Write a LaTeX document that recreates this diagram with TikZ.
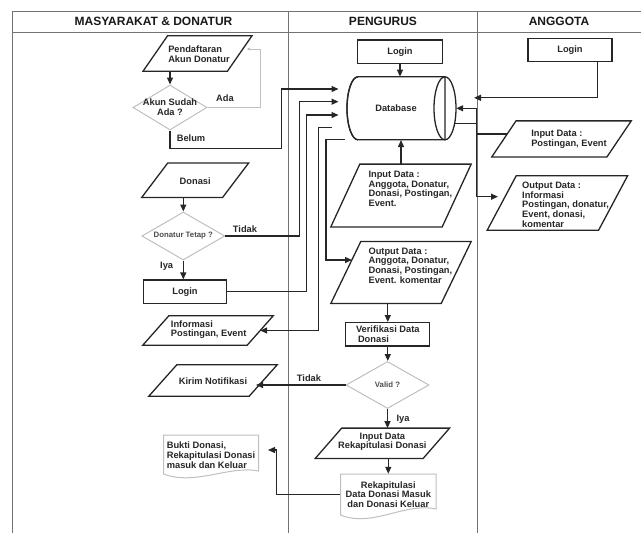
\documentclass[tikz,border=0pt]{standalone}
\usepackage{fontspec}
\setmainfont{Liberation Sans}
\usetikzlibrary{shapes.geometric,arrows.meta,calc}

\tikzset{
  lane/.style={draw=black!55, line width=0.7pt},
  boxline/.style={draw=black!85, line width=1.3pt},
  softline/.style={draw=black!25, line width=1pt},
  conn/.style={draw=black!85, line width=1.3pt},
  arr/.style={conn, -{Triangle[length=7pt,width=6pt]}},
  hold/.style={rectangle, inner sep=0pt},
  txt/.style={inner sep=0pt, text=black!85, font=\fontsize{9.3}{9.8}\selectfont\bfseries},
  dtext/.style={inner sep=0pt, text=black!70, font=\fontsize{7.8}{9}\selectfont\bfseries},
  lanehead/.style={inner sep=0pt, text=black!90, font=\fontsize{12}{14}\selectfont\bfseries},
  procbox/.style={rectangle, boxline, inner sep=0pt, txt},
  decision/.style={diamond, softline, inner sep=0pt, aspect=1},
}

% parallelogram (data) symbol: [align]{name}{centre}{width}{height}{slant}{text offset}{text}
\newcommand\flowpara[8][left]{%
  \node[hold, minimum width=#4pt, minimum height=#5pt] (#2) at (#3) {};
  \draw[boxline] ([xshift=-#6pt/2]#2.south west) -- ([xshift=-#6pt/2]#2.south east)
    -- ([xshift=#6pt/2]#2.north east) -- ([xshift=#6pt/2]#2.north west) -- cycle;
  \node[txt, align=#1] (#2-t) at ($(#2.center)+(#7)$) {#8};
}

\begin{document}
\begin{tikzpicture}[x=1pt,y=-1pt]
\useasboundingbox (0,0) rectangle (641,533);

% swimlanes
\draw[lane] (12,533) -- (12,11) -- (641,11);
\draw[lane] (12,32) -- (641,32);
\draw[lane] (288.6,11) -- (288.6,533);
\draw[lane] (477.7,11) -- (477.7,533);
\node[lanehead] (hmas) at (153.5,21) {MASYARAKAT \& DONATUR};
\node[lanehead] (hpen) at (383,21) {PENGURUS};
\node[lanehead] (hang) at (559,21) {ANGGOTA};

% ---- Masyarakat & Donatur ----
\flowpara{daftar}{197.5,53.5}{84}{35}{24.5}{1.5,0.7}{Pendaftaran\\Akun Donatur}
\node[decision, minimum width=74pt, minimum height=45pt] (akun) at (170,107.5) {};
\node[txt, align=center] (akun-t) at (akun) {Akun Sudah\\Ada ?};

\flowpara[center]{donasi}{195.2,180.2}{80.5}{34}{26}{0,0.5}{Donasi}
\node[decision, minimum width=83pt, minimum height=48pt] (tetap) at (183.3,236) {};
\node[dtext] (tetap-t) at (tetap) {Donatur Tetap ?};
\node[procbox, minimum width=83.4pt, minimum height=23.3pt] (login1) at (185,291.7) {Login};

\flowpara{info}{208,330.5}{104}{29}{26}{0.7,-0.8}{Informasi\\Postingan, Event}
\flowpara[center]{kirim}{213,380.5}{100}{31}{28}{0,0.2}{Kirim Notifikasi}

\node[hold, txt, align=left, minimum width=95pt, minimum height=40pt] (bukti) at (211,455) {Bukti Donasi,\\Rekapitulasi Donasi\\masuk dan Keluar};
\draw[softline] (163.5,435) -- (258.5,435) -- (258.5,471)
  .. controls (230,465) and (195,486) .. (163.5,474) -- cycle;

% ---- Pengurus ----
\node[procbox, minimum width=84.5pt, minimum height=23.3pt] (login2) at (400,51.7) {Login};

% database: horizontal cylinder, open end on the right
\node[hold, minimum width=109pt, minimum height=63pt] (db) at (401.5,108.3) {};
\draw[boxline, fill=white] (358,76.8) -- (445,76.8) -- (445,139.8) -- (358,139.8)
  arc[start angle=270, end angle=90, x radius=11pt, y radius=31.5pt];
\draw[boxline] (358,76.8) arc[start angle=90, end angle=270, x radius=11pt, y radius=31.5pt];
\draw[boxline] (445,108.3) ellipse[x radius=11pt, y radius=31.5pt];
\node[txt] (db-t) at (396,108.3) {Database};

\flowpara{inp}{401,195.5}{111}{62.4}{29}{9.4,-6.7}{Input Data :\\Anggota, Donatur,\\Donasi, Postingan,\\Event.}
\flowpara{out}{401,272.5}{110}{61.6}{30}{9.4,-7}{Output Data :\\Anggota, Donatur,\\Donasi, Postingan,\\Event. komentar}
\node[procbox, align=left, minimum width=84pt, minimum height=23.3pt] (verif) at (387.8,334.3) {Verifikasi Data\\\hspace*{2pt}Donasi};
\node[decision, minimum width=83pt, minimum height=47pt] (valid) at (387.5,385) {};
\node[dtext] (valid-t) at (valid) {Valid ?};
\flowpara[center]{rekin}{382.4,443.3}{107.5}{30}{26.5}{0,-1.5}{Input Data\\Rekapitulasi Donasi}

\node[hold, txt, align=center, minimum width=95.4pt, minimum height=41pt] (rekap) at (388.3,494.5) {Rekapitulasi\\Data Donasi Masuk\\dan Donasi Keluar};
\draw[softline] (340.6,474) -- (436,474) -- (436,509)
  .. controls (405,502) and (372,528) .. (340.6,515) -- cycle;

% ---- Anggota ----
\node[procbox, minimum width=84pt, minimum height=23.5pt] (login3) at (570,50) {Login};
\flowpara{ainp}{561.5,138.9}{114.8}{35.7}{24.3}{7.5,0}{Input Data :\\Postingan, Event}
\flowpara{aout}{557.4,203}{111}{54}{29}{8.2,1.7}{Output Data :\\Informasi\\Postingan, donatur,\\Event, donasi,\\komentar}

% ---- connector ends ----
\coordinate (adaTip) at (247,49);
\coordinate (dbIn1) at (338.5,89);
\coordinate (dbIn2) at (338.5,101.7);
\coordinate (dbIn3) at (338.5,115);
\coordinate (dbOut1) at (331.7,127.7);
\coordinate (dbOut2) at (345,139.3);
\coordinate (outIn) at (352,260);
\coordinate (kirimIn) at (256,385);
\coordinate (buktiIn) at (268,450);
\coordinate (dbIn4) at (474,97.8);
\coordinate (hubTop) at (476.5,108.3);
\coordinate (hubBot) at (476.5,196.7);
\coordinate (aoutIn) at (498,196.7);
\coordinate (dbOut3) at (455,123.3);
\coordinate (ainpOut) at (507.4,134);

% ---- connectors ----
\draw[arr] (akun.north |- daftar.south) -- (akun.north);
\draw[softline, -{Triangle[length=3pt,width=3pt]}] (akun.east) -| ([xshift=13pt]adaTip) -- (adaTip);
\draw[arr] (akun.south) -- ++(0,18.3) -| (281.6,89) -- (dbIn1);

\draw[arr] (tetap.north |- donasi.south) -- (tetap.north);
\draw[arr] (tetap.east) -| (299.3,101.7) -- (dbIn2);
\draw[arr] (tetap.south) -- (tetap.south |- login1.north);
\draw[arr] (login1.east) -| (306.7,115) -- (dbIn3);
\draw[arr] (dbOut1) -- (318.7,127.7) |- (info.east);
\draw[arr] (dbOut2) -- (326,139.3) |- (outIn);

\draw[arr] (login2.south) -- (login2.south |- db.north);
\draw[arr] (inp.north) -- (inp.north |- db.south);
\draw[arr] (verif.north |- out.south) -- (verif.north);
\draw[arr] (verif.south) -- (verif.south |- valid.north);
\draw[arr] (valid.west) -- (kirimIn);
\draw[arr] (valid.south) -- (valid.south |- rekin.north);
\draw[arr] (rekap.north |- rekin.south) -- (rekap.north);
\draw[arr] (rekap.west) -| (276.3,450) -- (buktiIn);

\draw[arr] ([xshift=27.6pt]login3.south) |- (dbIn4);
\draw[arr] (hubTop) -- (db.east);
\draw[arr] (hubTop) -- (hubBot) -- (aoutIn);
\draw[conn] (dbOut3) -- (dbOut3 -| hubTop);
\draw[conn] (ainpOut) -- (ainpOut -| hubTop);

% ---- branch labels ----
\node[txt] (lAda) at (225,97.7) {Ada};
\node[txt] (lBelum) at (191,138) {Belum};
\node[txt] (lTidak1) at (245,229.3) {Tidak};
\node[txt] (lIya1) at (166.7,266.7) {Iya};
\node[txt] (lTidak2) at (309,377.7) {Tidak};
\node[txt] (lIya2) at (403,419) {Iya};
\end{tikzpicture}
\end{document}
